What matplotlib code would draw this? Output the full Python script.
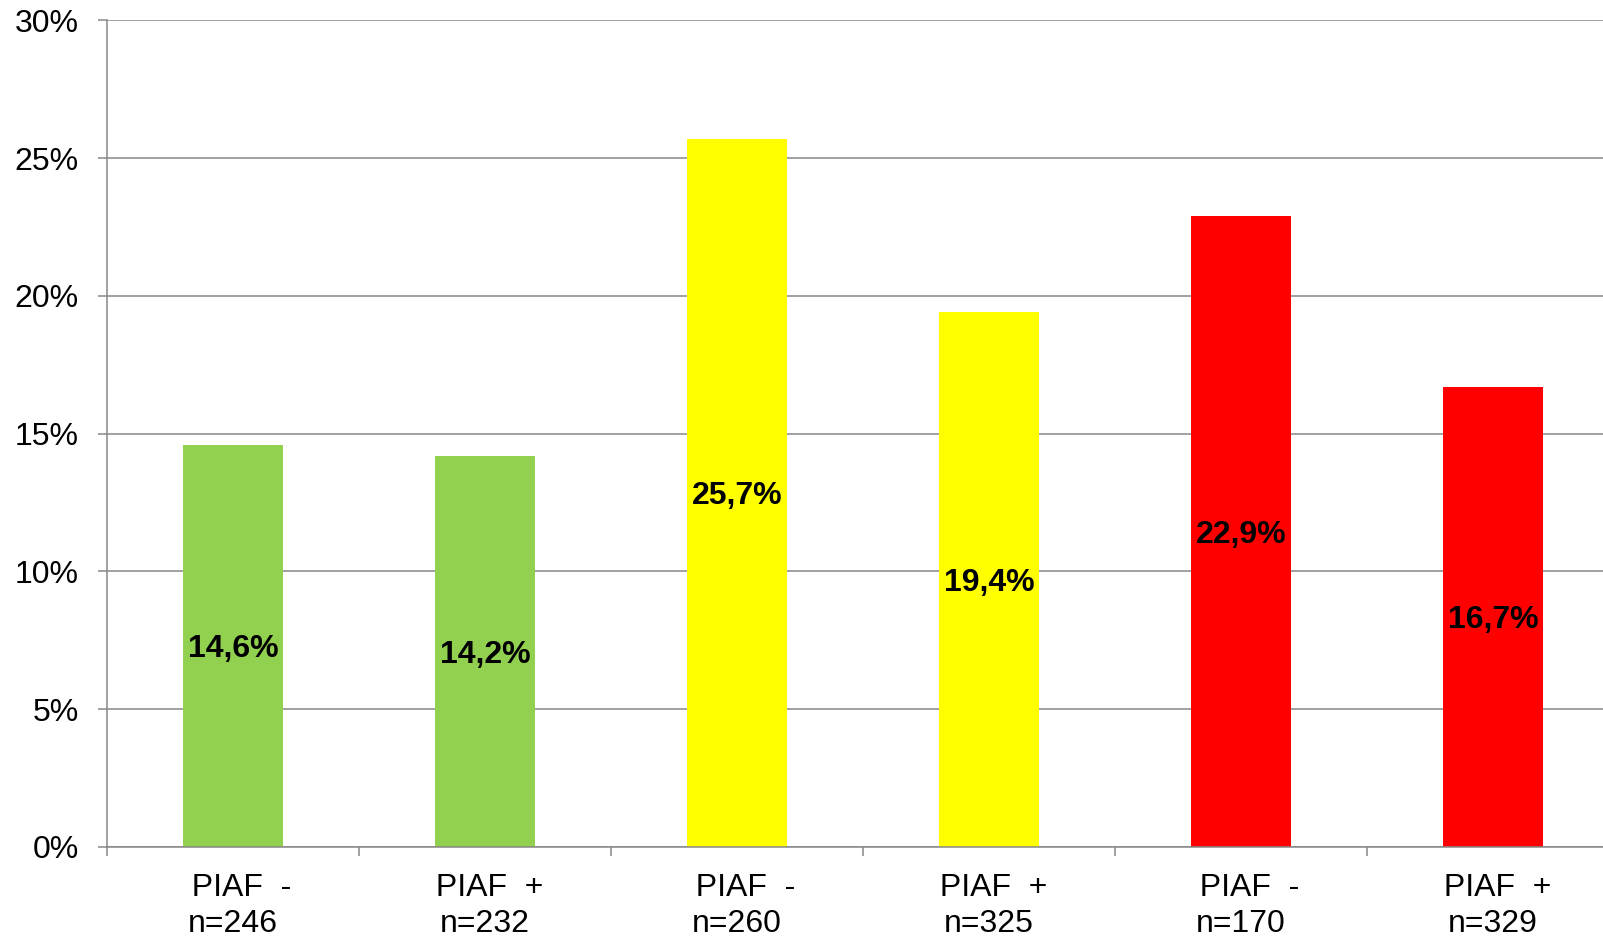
import matplotlib
matplotlib.use("Agg")
import matplotlib.pyplot as plt
from matplotlib.ticker import FixedLocator, FuncFormatter, NullFormatter

plt.rcParams['font.family'] = ['Liberation Sans', 'DejaVu Sans']

# Data
groups = ["  PIAF  -", " PIAF  +", "  PIAF  -", " PIAF  +", "  PIAF  -", " PIAF  +"]
counts = [246, 232, 260, 325, 170, 329]
values = [14.6, 14.2, 25.7, 19.4, 22.9, 16.7]
colors = ["#92D050", "#92D050", "#FFFF00", "#FFFF00", "#FF0000", "#FF0000"]
y_ticks = [0, 5, 10, 15, 20, 25, 30]

W, H = 1603, 939
fig = plt.figure(figsize=(W / 100, H / 100), dpi=100)
left, right, top, bottom = 107, 1619, 20.3, 847
ax = fig.add_axes([left / W, (H - bottom) / H, (right - left) / W, (bottom - top) / H])

grid_color = "#888888"
x = list(range(len(values)))
ax.bar(x, values, width=0.4, color=colors, zorder=3)

for xi, v in zip(x, values):
    ax.text(xi, v / 2, f"{v:.1f}%".replace(".", ","), ha="center", va="center_baseline",
            fontsize=23, fontweight="bold", color="black", zorder=4)

ax.set_xlim(-0.5, len(values) - 0.5)
ax.set_ylim(0, 30)

# y axis
ax.set_yticks(y_ticks)
ax.yaxis.set_major_formatter(FuncFormatter(lambda v, p: f"{v:.0f}%"))
ax.yaxis.grid(True, color=grid_color, linewidth=1.1, zorder=0)
ax.tick_params(axis="y", length=6.5, width=1.1, color=grid_color, pad=14,
               labelsize=23, labelcolor="black")

# x axis: ticks at category boundaries, labels at centers
ax.xaxis.set_major_locator(FixedLocator([i - 0.5 for i in range(len(values) + 1)]))
ax.xaxis.set_major_formatter(NullFormatter())
ax.xaxis.set_minor_locator(FixedLocator(x))
ax.set_xticklabels([f"{g}\nn={n}" for g, n in zip(groups, counts)], minor=True)
ax.tick_params(axis="x", which="major", length=6.5, width=1.1, color=grid_color)
ax.tick_params(axis="x", which="minor", length=0, pad=19, labelsize=23)
for lbl in ax.get_xticklabels(minor=True):
    lbl.set_linespacing(1.25)

for s in ["top", "right"]:
    ax.spines[s].set_visible(False)
for s in ["left", "bottom"]:
    ax.spines[s].set_color(grid_color)
    ax.spines[s].set_linewidth(1.1)
    ax.spines[s].set_zorder(5)

fig.savefig("out.png", dpi=100)
